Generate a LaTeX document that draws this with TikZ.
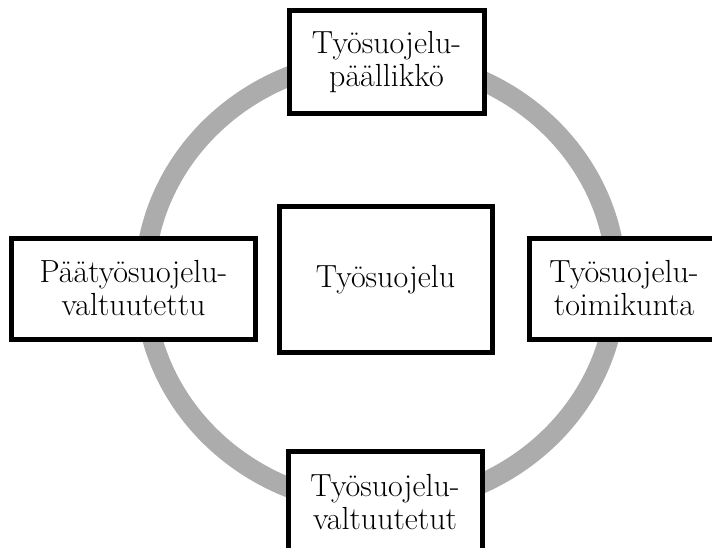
\documentclass[tikz,border=0pt]{standalone}
\usepackage{tikz}

\tikzset{
  osa/.style={draw=black,line width=5pt,fill=white,align=center,inner sep=0pt,
    font=\fontsize{32}{33}\selectfont},
}

\begin{document}
\begin{tikzpicture}[x=1pt,y=-1pt]
\useasboundingbox (0,0) rectangle (712,548);
\clip (0,0) rectangle (712,548);
\draw[gray!65,line width=20pt] (380.5,282) ellipse [x radius=236,y radius=223];
\node[osa,minimum width=213pt,minimum height=145pt] (keski) at (385.5,279.5) {Työsuojelu};
\node[osa,minimum width=195pt,minimum height=103pt] (ylä) at (386.5,62.5) {Työsuojelu-\\päällikkö};
\node[osa,minimum width=244pt,minimum height=101pt] (vasen) at (133.5,288.5) {Päätyösuojelu-\\valtuutettu};
\node[osa,minimum width=190pt,minimum height=101pt] (oikea) at (624,288.5) {Työsuojelu-\\toimikunta};
\node[osa,minimum width=194pt,minimum height=103pt] (ala) at (385,502.5) {Työsuojelu-\\valtuutetut};
\end{tikzpicture}
\end{document}
